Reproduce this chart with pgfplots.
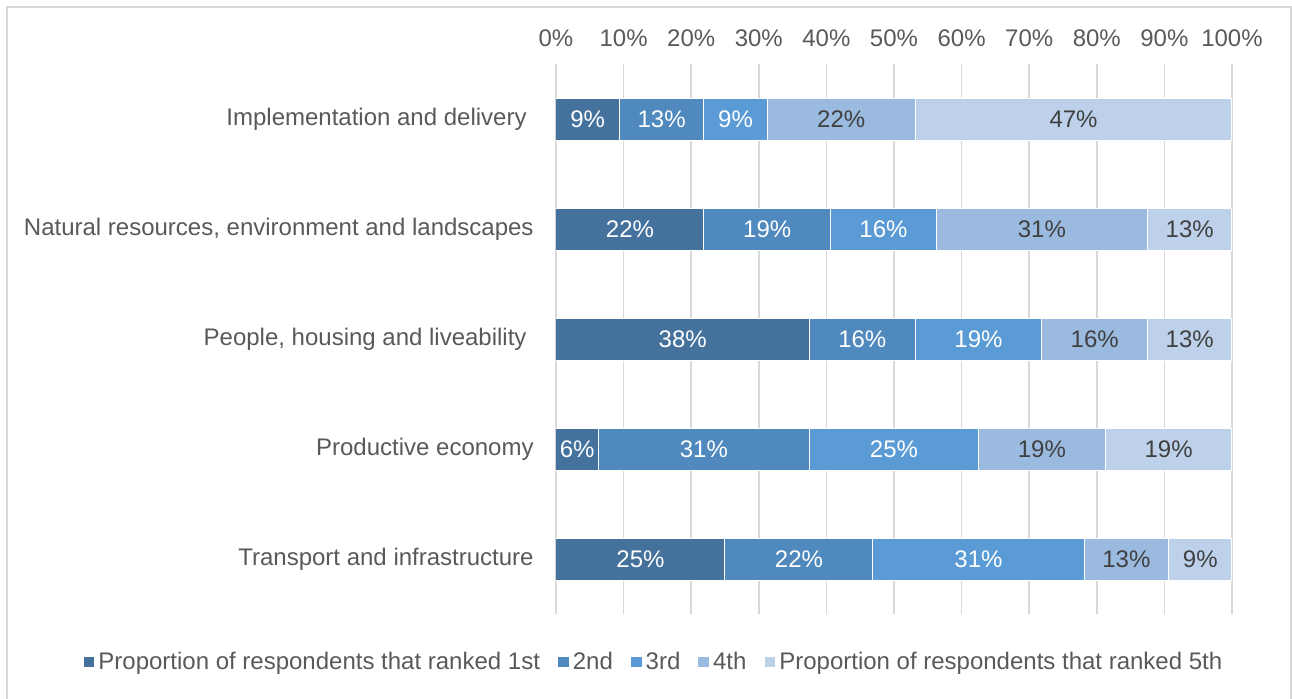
\documentclass[border=0pt]{standalone}
\usepackage{fontspec}
\setmainfont{Liberation Sans}
\usepackage{pgfplots}
\usepackage{pgfplotstable}
\pgfplotsset{compat=1.18}
\definecolor{cA}{HTML}{44729D}
\definecolor{cB}{HTML}{4F89BD}
\definecolor{cC}{HTML}{5B9BD5}
\definecolor{cD}{HTML}{9ABAE0}
\definecolor{cE}{HTML}{BDD1EA}
\definecolor{txt}{HTML}{595959}
\definecolor{dk}{HTML}{404040}
\definecolor{grd}{HTML}{D9D9D9}
\newcommand{\fs}{\fontsize{12}{14.4}\selectfont}

% y: 0 Transport, 1 Productive, 2 People, 3 Natural, 4 Implementation
\pgfplotstableread{
y x l
0 25 25
1 6.25 6
2 37.5 38
3 21.875 22
4 9.375 9
}\sA
\pgfplotstableread{
y x l
0 21.875 22
1 31.25 31
2 15.625 16
3 18.75 19
4 12.5 13
}\sB
\pgfplotstableread{
y x l
0 31.25 31
1 25 25
2 18.75 19
3 15.625 16
4 9.375 9
}\sC
\pgfplotstableread{
y x l
0 12.5 13
1 18.75 19
2 15.625 16
3 31.25 31
4 21.875 22
}\sD
\pgfplotstableread{
y x l
0 9.375 9
1 18.75 19
2 12.5 13
3 12.5 13
4 46.875 47
}\sE

\begin{document}
\begin{tikzpicture}
\begin{axis}[
  at={(0pt,0pt)}, anchor=south west,
  scale only axis, width=338pt, height=275pt,
  xbar stacked, bar width=21pt,
  xmin=0, xmax=100, ymin=-0.5, ymax=4.5,
  xtick={0,10,20,30,40,50,60,70,80,90,100},
  xticklabels={0\%,10\%,20\%,30\%,40\%,50\%,60\%,70\%,80\%,90\%,100\%},
  xticklabel pos=right,
  xticklabel style={anchor=base, yshift=8.7pt, text=txt, font=\fs},
  ytick={0,1,2,3,4},
  yticklabels={Transport and infrastructure, Productive economy, {People, housing and liveability\hspace*{3.5pt}}, {Natural resources, environment and landscapes}, {Implementation and delivery\hspace*{3.5pt}}},
  yticklabel style={anchor=east, inner sep=0pt, xshift=-11pt, text=txt, font=\fs},
  xmajorgrids, major grid style={grd, line width=0.8pt},
  axis line style={draw=none}, major tick length=0pt,
  point meta=explicit symbolic,
  nodes near coords={\pgfplotspointmeta\%},
  every node near coord/.append style={font=\fs, text=white},
  legend style={at={(0.1464,-0.0873)}, anchor=center, draw=none, fill=none,
    legend columns=-1, font=\fs, text=txt,
    /tikz/every even column/.append style={column sep=7pt}},
  legend image code/.code={\fill[#1,draw=none] (0pt,-2.7pt) rectangle (5.4pt,2.7pt);},
]
\addplot[fill=cA, draw=white, line width=0.5pt] table[x=x,y=y,meta=l]{\sA};
\addplot[fill=cB, draw=white, line width=0.5pt] table[x=x,y=y,meta=l]{\sB};
\addplot[fill=cC, draw=white, line width=0.5pt] table[x=x,y=y,meta=l]{\sC};
\addplot[fill=cD, draw=white, line width=0.5pt, every node near coord/.append style={text=dk}] table[x=x,y=y,meta=l]{\sD};
\addplot[fill=cE, draw=white, line width=0.5pt, every node near coord/.append style={text=dk}] table[x=x,y=y,meta=l]{\sE};
\legend{Proportion of respondents that ranked 1st, 2nd, 3rd, 4th, Proportion of respondents that ranked 5th}
\end{axis}
\draw[grd, line width=1pt] (-274.5pt,-60pt) -- (-274.5pt,303.75pt) -- (367.25pt,303.75pt) -- (367.25pt,-60pt);
\pgfresetboundingbox
\path[use as bounding box] (-278pt,-42pt) rectangle (368pt,307pt);
\end{tikzpicture}
\end{document}
